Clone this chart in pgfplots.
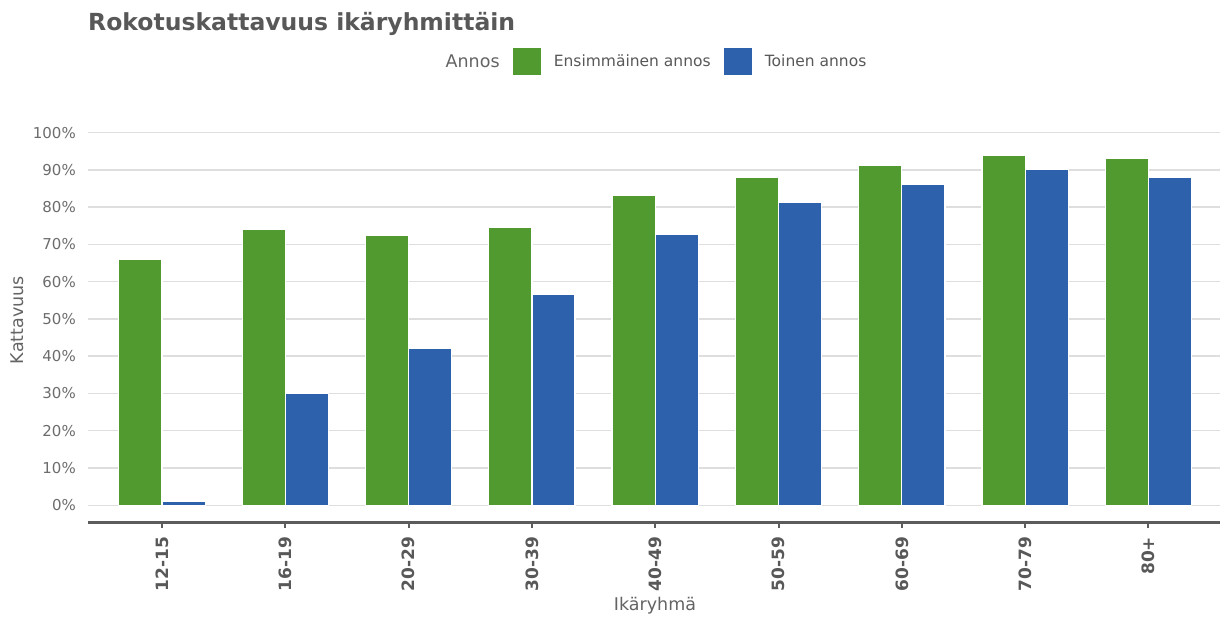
\documentclass[border=0pt]{standalone}
\usepackage{fontspec}
\setmainfont{DejaVu Sans}
\usepackage{pgfplots}
\pgfplotsset{compat=1.18}
\definecolor{cgreen}{RGB}{81,154,47}
\definecolor{cblue}{RGB}{46,97,172}
\definecolor{cgrid}{RGB}{222,222,222}
\definecolor{caxis}{RGB}{92,92,92}
\definecolor{ctitle}{RGB}{88,88,88}
\definecolor{cticky}{RGB}{108,108,108}
\definecolor{clab}{RGB}{100,100,100}
\begin{document}
\begin{tikzpicture}
\begin{axis}[
  scale only axis,
  width=1132pt, height=408pt,
  xmin=-0.6, xmax=8.58,
  ymin=-4.5, ymax=105,
  axis x line*=bottom,
  axis y line*=left,
  x axis line style={-, line width=3pt, color=caxis},
  y axis line style={draw=none},
  xtick={0,1,2,3,4,5,6,7,8},
  xticklabels={12-15,16-19,20-29,30-39,40-49,50-59,60-69,70-79,80+},
  tick align=outside,
  xtick style={line width=2pt, color=caxis},
  major tick length=6pt,
  ytick={0,10,20,30,40,50,60,70,80,90,100},
  yticklabels={0\%,10\%,20\%,30\%,40\%,50\%,60\%,70\%,80\%,90\%,100\%},
  ytick style={draw=none},
  ymajorgrids,
  grid style={line width=1.5pt, color=cgrid},
  xticklabel style={yshift=-8.7pt, rotate=90, anchor=east, inner sep=0pt,
    font=\fontsize{17}{20}\selectfont\bfseries, text=ctitle},
  yticklabel style={anchor=east, inner sep=0pt, xshift=-6pt,
    font=\fontsize{15}{18}\selectfont, text=cticky},
  legend columns=-1,
  legend style={at={(0.5,1)}, anchor=center, yshift=52.5pt, xshift=2pt, draw=none, fill=none,
    inner sep=0pt, column sep=0pt, nodes={inner sep=0pt, text=ctitle},
    font=\fontsize{15.5}{18}\selectfont},
  legend image code/.code={\fill[#1] (12.5pt,-14.5pt) rectangle (41pt,14.5pt);
    \path (0pt,0pt) (53pt,0pt);},
]
\coordinate (SW) at (rel axis cs:0,0);
\coordinate (NE) at (rel axis cs:1,1);
\addlegendimage{empty legend}
\addlegendentry[font=\fontsize{17.5}{20}\selectfont, text=clab]{Annos}
\addplot[ybar, bar width=0.35, bar shift=-0.175, fill=cgreen, draw=white, line width=1.2pt]
  coordinates {(0,66.1) (1,74.1) (2,72.3) (3,74.7) (4,83.2) (5,88.1) (6,91.1) (7,93.9) (8,93.2)};
\addlegendentry{Ensimmäinen annos}
\addplot[ybar, bar width=0.35, bar shift=0.175, fill=cblue, draw=white, line width=1.2pt]
  coordinates {(0,1.0) (1,29.9) (2,42.2) (3,56.7) (4,72.8) (5,81.3) (6,86.1) (7,90.2) (8,87.9)};
\addlegendentry{Toinen annos}
\end{axis}
\node[anchor=base west, inner sep=0pt, font=\fontsize{23.5}{26}\selectfont\bfseries, text=ctitle]
  at ([yshift=491pt]SW) {Rokotuskattavuus ikäryhmittäin};
\node[rotate=90, anchor=center, inner sep=0pt, font=\fontsize{17.5}{20}\selectfont, text=clab]
  at ([xshift=-70.5pt, yshift=202pt]SW) {Kattavuus};
\node[anchor=base, inner sep=0pt, font=\fontsize{17.5}{20}\selectfont, text=clab]
  at ([xshift=567pt, yshift=-88.7pt]SW) {Ikäryhmä};
\pgfresetboundingbox
\path[use as bounding box] ([xshift=-88pt, yshift=-95pt]SW) rectangle ([yshift=114pt]NE);
\end{tikzpicture}
\end{document}
